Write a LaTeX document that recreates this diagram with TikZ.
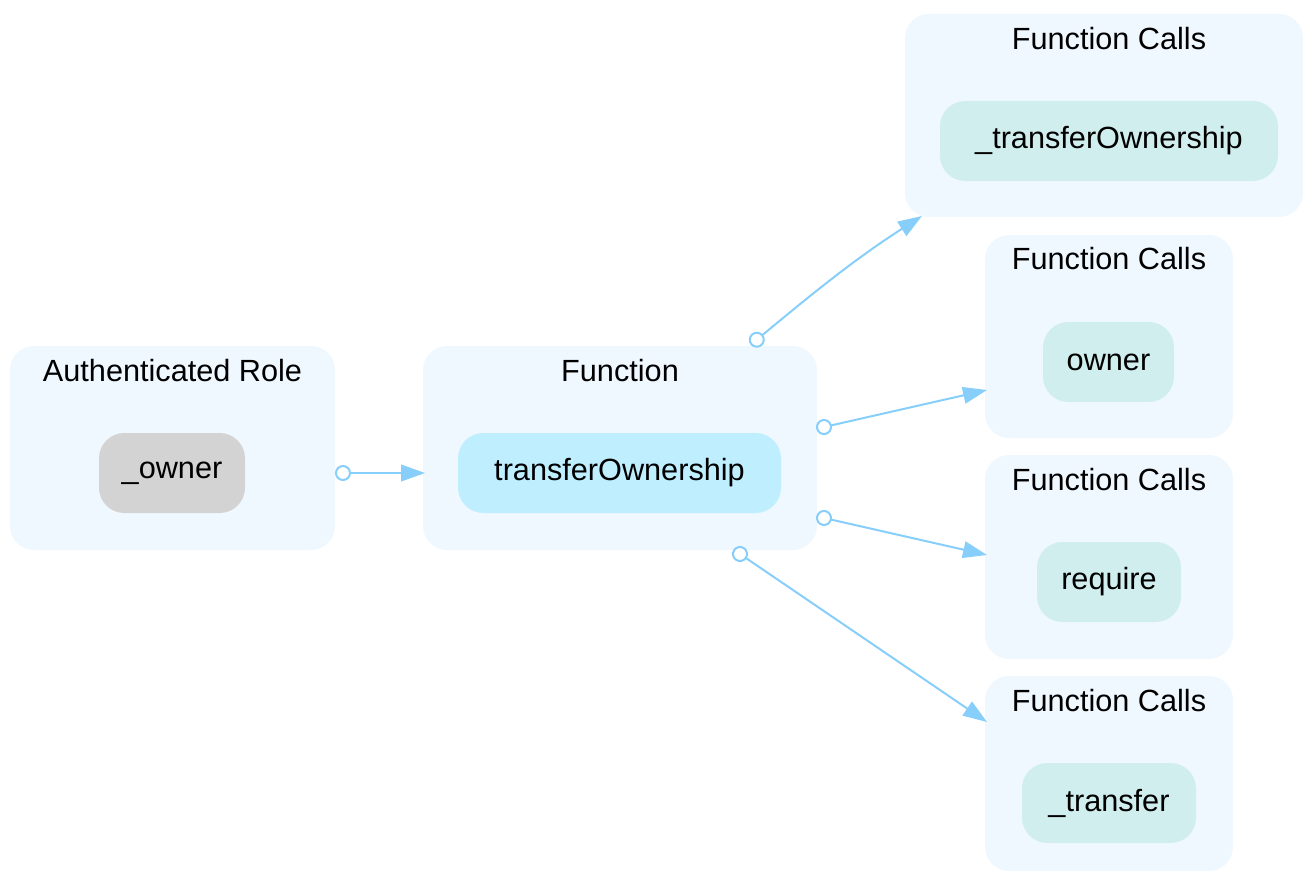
\documentclass[tikz,border=0pt]{standalone}
\usepackage{fontspec}
\setmainfont{Liberation Sans}
\usetikzlibrary{arrows.meta}
\definecolor{clfill}{HTML}{F0F8FF}
\definecolor{fnfill}{HTML}{BFEFFF}
\definecolor{fcfill}{HTML}{D1EEEE}
\definecolor{rolefill}{HTML}{D3D3D3}
\definecolor{edgecol}{HTML}{87CEFA}
\tikzset{
  cluster/.style={fill=clfill, draw=none, rounded corners=18pt, inner sep=0pt, outer sep=0pt},
  item/.style={draw=none, rounded corners=19pt, inner sep=0pt, outer sep=0pt,
    font=\fontsize{23}{27}\selectfont, text=black},
  ttl/.style={font=\fontsize{23}{27}\selectfont, text=black, inner sep=0pt},
  conn/.style={draw=edgecol, line width=1.5pt,
    {Circle[fill=white, length=12pt, line width=1.5pt]}-{Triangle[length=18pt, width=12.5pt]}},
}
\begin{document}
\begin{tikzpicture}[x=0.75pt, y=-0.75pt]
\useasboundingbox (0,0) rectangle (1304,874);
% clusters
\node[cluster, minimum width=325*0.75pt, minimum height=204*0.75pt] (roleC) at (172.5,448) {};
\node[cluster, minimum width=394*0.75pt, minimum height=204*0.75pt] (fnC) at (620,448) {};
\node[cluster, minimum width=398*0.75pt, minimum height=203*0.75pt] (fc1C) at (1104,115.5) {};
\node[cluster, minimum width=248*0.75pt, minimum height=203*0.75pt] (fc2C) at (1109,336.5) {};
\node[cluster, minimum width=248*0.75pt, minimum height=204*0.75pt] (fc3C) at (1109,557) {};
\node[cluster, minimum width=248*0.75pt, minimum height=195*0.75pt] (fc4C) at (1109,773.5) {};
% titles
\node[ttl] (roleT) at (172.5,371) {Authenticated Role};
\node[ttl] (fnT) at (620,371) {Function};
\node[ttl] (fc1T) at (1109,39) {Function Calls};
\node[ttl] (fc2T) at (1109,259) {Function Calls};
\node[ttl] (fc3T) at (1109,480) {Function Calls};
\node[ttl] (fc4T) at (1109,701) {Function Calls};
% items
\node[item, fill=rolefill, minimum width=146*0.75pt, minimum height=80*0.75pt] (owner0) at (172,473) {\_owner};
\node[item, fill=fnfill, minimum width=323*0.75pt, minimum height=80*0.75pt] (fn) at (619.5,473) {transferOwnership};
\node[item, fill=fcfill, minimum width=338*0.75pt, minimum height=80*0.75pt] (c1) at (1109,141) {\_transferOwnership};
\node[item, fill=fcfill, minimum width=131*0.75pt, minimum height=80*0.75pt] (c2) at (1108.5,362) {owner};
\node[item, fill=fcfill, minimum width=144*0.75pt, minimum height=80*0.75pt] (c3) at (1109,582) {require};
\node[item, fill=fcfill, minimum width=174*0.75pt, minimum height=80*0.75pt] (c4) at (1109,803) {\_transfer};
% edge end points on cluster borders
\coordinate (s1) at (335,473);
\coordinate (e1) at (425,473);
\coordinate (s2) at (750.6,344.8);
\coordinate (e2) at (922,216);
\coordinate (s3) at (816.2,428.8);
\coordinate (e3) at (987,390);
\coordinate (s4) at (816.2,516.2);
\coordinate (e4) at (987,555);
\coordinate (s5) at (733.4,549.5);
\coordinate (e5) at (987,722);
% connectors
\draw[conn] (s1) -- (e1);
\draw[conn] (s2) .. controls (800,304) and (850,262) .. (e2);
\draw[conn] (s3) -- (e3);
\draw[conn] (s4) -- (e4);
\draw[conn] (s5) -- (e5);
\end{tikzpicture}
\end{document}
